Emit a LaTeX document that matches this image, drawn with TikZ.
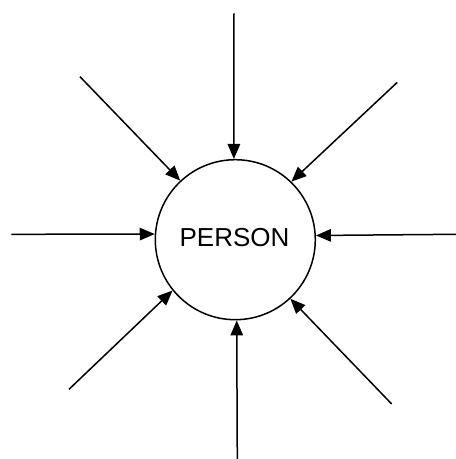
\documentclass[tikz,border=0pt]{standalone}
\usepackage{fontspec}
\setmainfont{Liberation Sans}
\usetikzlibrary{arrows.meta}
\tikzset{
  personnode/.style={circle, draw, line width=1.5pt, minimum size=160pt, inner sep=0pt},
  inarrow/.style={line width=1.5pt, -{Triangle[length=15pt,width=12.5pt]}}
}
\begin{document}
\begin{tikzpicture}[x=1pt,y=-1pt]
\useasboundingbox (0,0) rectangle (456,459);
\node[personnode] (P) at (235.3,239.7) {};
\node[font=\fontsize{26}{30}\selectfont, inner sep=0pt] (T) at (234.5,237.8) {PERSON};
\coordinate (cT) at (234,13.3);
\coordinate (cTL) at (80,76.7);
\coordinate (cTR) at (397.3,82.3);
\coordinate (cL) at (11.3,234.3);
\coordinate (cR) at (456,234.3);
\coordinate (cBL) at (69,389.3);
\coordinate (cB) at (237.3,459);
\coordinate (cBR) at (391.7,404);
\draw[inarrow] (cT) -- (P.91);
\draw[inarrow] (cTL) -- (P.133.6);
\draw[inarrow] (cTR) -- (P.46.6);
\draw[inarrow] (cL) -- (P.176.2);
\draw[inarrow] (cR) -- (P.3.8);
\draw[inarrow] (cBL) -- (P.219.9);
\draw[inarrow] (cB) -- (P.271);
\draw[inarrow] (cBR) -- (P.313.7);
\end{tikzpicture}
\end{document}
